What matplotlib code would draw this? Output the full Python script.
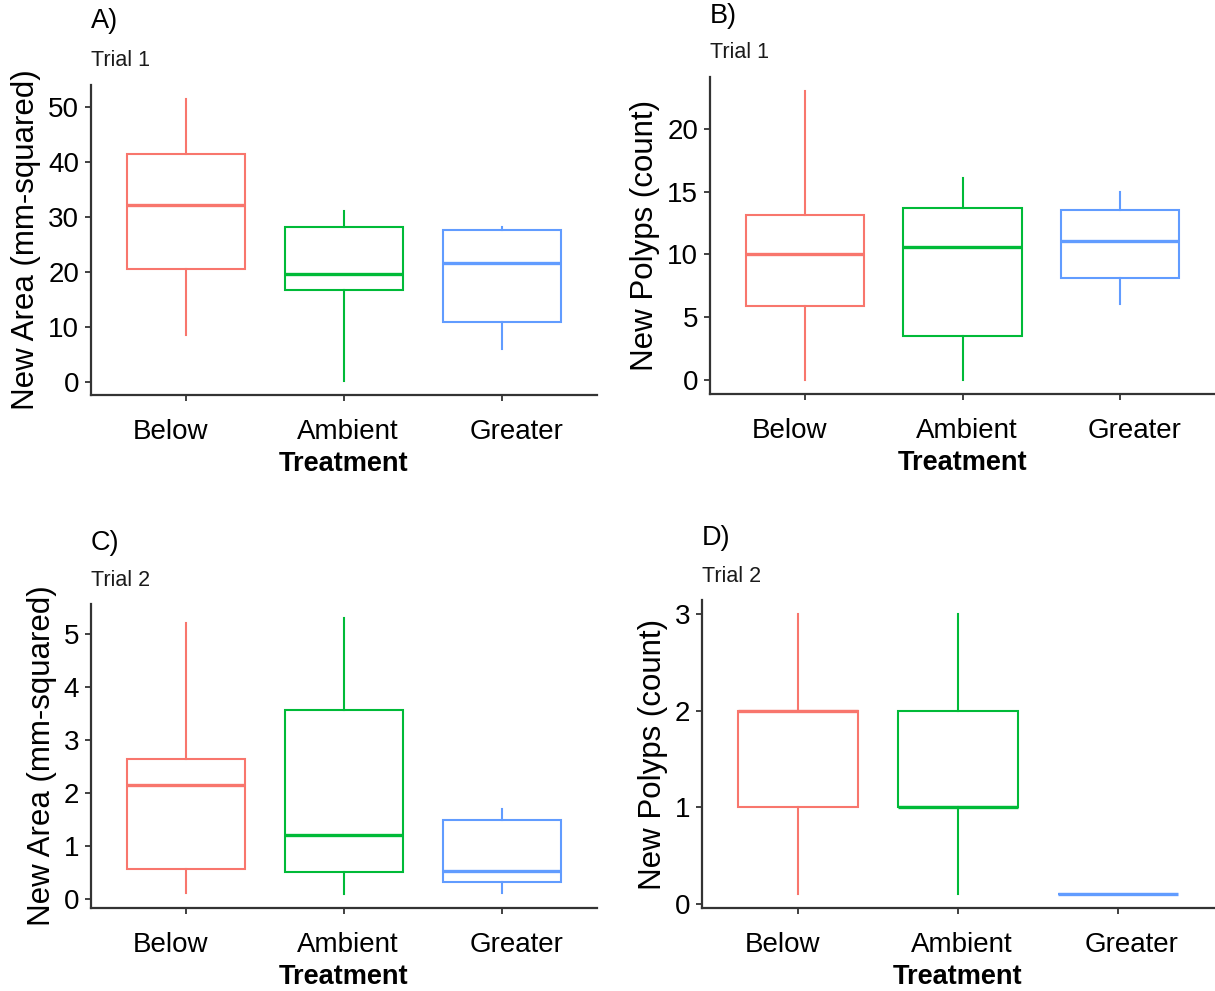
import matplotlib
matplotlib.use("Agg")
import matplotlib.pyplot as plt
from matplotlib.transforms import ScaledTranslation

plt.rcParams['font.family'] = ['Liberation Sans', 'DejaVu Sans']

categories = ["Below", "Ambient", "Greater"]
colors = ["#F8766D", "#00BA38", "#619CFF"]

# Panel A: Trial 1, New Area
a_whislo = [8.5, 0.2, 6.0]
a_q1 = [20.5, 16.8, 11.0]
a_med = [32.2, 19.6, 21.6]
a_q3 = [41.5, 28.3, 27.7]
a_whishi = [51.5, 31.2, 28.3]

# Panel B: Trial 1, New Polyps
b_whislo = [0.0, 0.0, 6.0]
b_q1 = [5.9, 3.5, 8.1]
b_med = [10.05, 10.6, 11.1]
b_q3 = [13.1, 13.7, 13.5]
b_whishi = [23.0, 16.1, 15.0]

# Panel C: Trial 2, New Area
c_whislo = [0.13, 0.10, 0.12]
c_q1 = [0.57, 0.52, 0.33]
c_med = [2.15, 1.22, 0.53]
c_q3 = [2.65, 3.57, 1.50]
c_whishi = [5.20, 5.30, 1.70]

# Panel D: Trial 2, New Polyps
d_whislo = [0.1, 0.1, 0.1]
d_q1 = [1.0, 1.0, 0.1]
d_med = [2.0, 1.0, 0.1]
d_q3 = [2.0, 2.0, 0.1]
d_whishi = [3.0, 3.0, 0.1]

W, H = 1215, 991
fig = plt.figure(figsize=(W / 100, H / 100), dpi=100)


def rect(l, t, r, b):
    return [l / W, 1 - b / H, (r - l) / W, (b - t) / H]


panels = [
    dict(r=rect(91, 85, 597, 395), letter="A)", trial="Trial 1", lx=91, ly=21, ty=60,
         ylabel="New Area (mm-squared)", ylim=(-2.37, 54.07), yticks=[0, 10, 20, 30, 40, 50],
         data=(a_whislo, a_q1, a_med, a_q3, a_whishi)),
    dict(r=rect(710, 77, 1215, 394), letter="B)", trial="Trial 1", lx=710, ly=16, ty=53,
         ylabel="New Polyps (count)", ylim=(-1.15, 24.15), yticks=[0, 5, 10, 15, 20],
         data=(b_whislo, b_q1, b_med, b_q3, b_whishi)),
    dict(r=rect(91, 604, 597, 908), letter="C)", trial="Trial 2", lx=91, ly=543, ty=581,
         ylabel="New Area (mm-squared)", ylim=(-0.16, 5.56), yticks=[0, 1, 2, 3, 4, 5],
         data=(c_whislo, c_q1, c_med, c_q3, c_whishi)),
    dict(r=rect(702, 600, 1214, 908), letter="D)", trial="Trial 2", lx=702, ly=538, ty=577,
         ylabel="New Polyps (count)", ylim=(-0.045, 3.145), yticks=[0, 1, 2, 3],
         data=(d_whislo, d_q1, d_med, d_q3, d_whishi)),
]

label_shift_px = [-15, 4, 14]

for p in panels:
    ax = fig.add_axes(p["r"])
    wl, q1, med, q3, wh = p["data"]
    for i in range(3):
        st = [dict(whislo=wl[i], q1=q1[i], med=med[i], q3=q3[i], whishi=wh[i], fliers=[])]
        c = colors[i]
        ax.bxp(st, positions=[i + 1], widths=0.75, showcaps=False, patch_artist=True,
               boxprops=dict(facecolor="white", edgecolor=c, linewidth=1.5),
               whiskerprops=dict(color=c, linewidth=1.5),
               medianprops=dict(color=c, linewidth=2.4, solid_capstyle="butt"),
               manage_ticks=False)
    ax.set_xlim(0.4, 3.6)
    ax.set_ylim(*p["ylim"])
    ax.set_xticks([1, 2, 3])
    ax.set_xticklabels(categories)
    ax.set_yticks(p["yticks"])
    for s in ["top", "right"]:
        ax.spines[s].set_visible(False)
    for s in ["left", "bottom"]:
        ax.spines[s].set_color("#333333")
        ax.spines[s].set_linewidth(1.6)
    ax.tick_params(axis="x", length=4.5, width=1.3, color="#333333", labelsize=20,
                   pad=13, labelcolor="black")
    ax.tick_params(axis="y", length=4.5, width=1.3, color="#333333", labelsize=20,
                   pad=4, labelcolor="black")
    for lab, dx in zip(ax.get_xticklabels(), label_shift_px):
        lab.set_transform(lab.get_transform() + ScaledTranslation(dx / 100, 0, fig.dpi_scale_trans))
    ax.set_xlabel("Treatment", fontsize=19.5, fontweight="bold", labelpad=4)
    ax.set_ylabel(p["ylabel"], fontsize=22.5, labelpad=5)
    fig.text(p["lx"] / W, 1 - p["ly"] / H, p["letter"], fontsize=19.5, ha="left", va="center")
    fig.text(p["lx"] / W, 1 - p["ty"] / H, p["trial"], fontsize=15.5, ha="left", va="center",
             color="#1a1a1a")

fig.savefig("out.png", dpi=100)
